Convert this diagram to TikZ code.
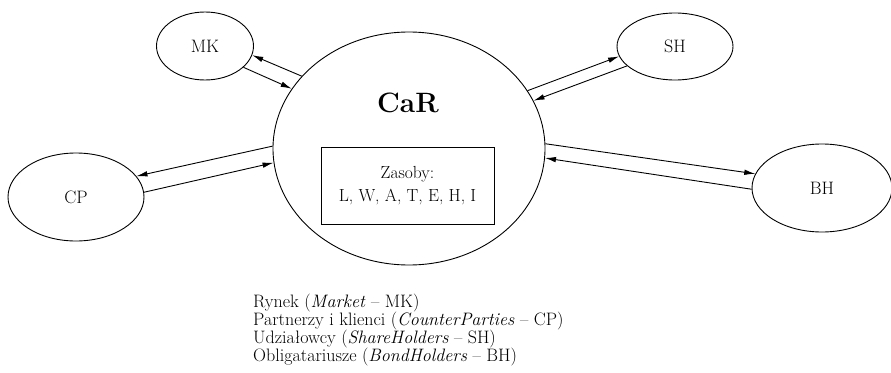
\documentclass[tikz,border=0pt]{standalone}
\usetikzlibrary{arrows.meta,shapes.geometric}
\begin{document}
\begin{tikzpicture}[x=1pt,y=-1pt,
  party/.style={draw,ellipse,line width=0.9pt,inner sep=0pt,font=\fontsize{18}{21}\selectfont},
  flow/.style={line width=0.9pt,-{Latex[length=11pt,width=5.5pt]}},
  legend/.style={anchor=base west,inner sep=0pt,font=\fontsize{18}{18}\selectfont}]
\useasboundingbox (0,0) rectangle (891,372);
% central firm and its resources
\node[draw,ellipse,line width=0.9pt,minimum width=272pt,minimum height=233pt] (car) at (409,148.5) {};
\node[font=\fontsize{28}{32}\selectfont\bfseries,anchor=base,inner sep=0pt] (carlbl) at (408,112) {CaR};
\node[draw,line width=0.9pt,minimum width=173pt,minimum height=77pt,align=center,
      font=\fontsize{17.5}{23}\selectfont] (res) at (407.5,185.5) {Zasoby:\\L, W, A, T, E, H, I};
% stakeholders
\node[party,minimum width=97pt,minimum height=68pt] (mk) at (205,46) {MK};
\node[party,minimum width=116pt,minimum height=67pt] (sh) at (675,46.5) {SH};
\node[party,minimum width=136pt,minimum height=88pt] (cp) at (76,197) {CP};
\node[party,minimum width=140pt,minimum height=88pt] (bh) at (822,188) {BH};
% two-way flows
\draw[flow] (car.146.7) -- (mk.-11.8);
\draw[flow] (mk.-29.4) -- (car.153.4);
\draw[flow] (car.26) -- (sh.190.8);
\draw[flow] (sh.202.5) -- (car.21.6);
\draw[flow] (car.179.4) -- (cp.19.2);
\draw[flow] (cp.4.2) -- (car.186.5);
\draw[flow] (car.2.8) -- (bh.168.5);
\draw[flow] (bh.181.6) -- (car.-4.4);
% legend
\node[legend] (l1) at (253,307) {Rynek (\textit{Market} -- MK)};
\node[legend] (l2) at (253,325) {Partnerzy i klienci (\textit{CounterParties} -- CP)};
\node[legend] (l3) at (253,343) {Udziałowcy (\textit{ShareHolders} -- SH)};
\node[legend] (l4) at (253,361) {Obligatariusze (\textit{BondHolders} -- BH)};
\end{tikzpicture}
\end{document}
